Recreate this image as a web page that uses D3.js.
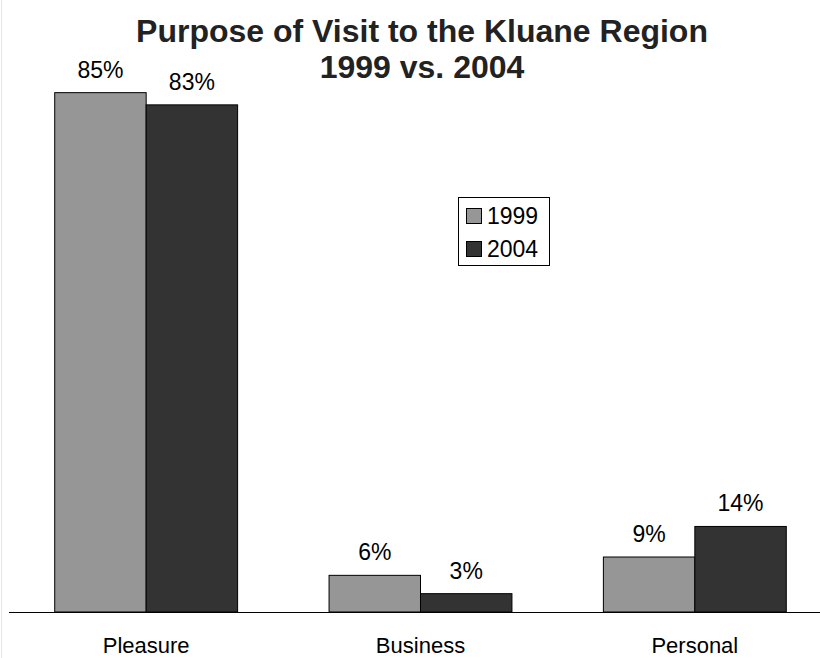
<!DOCTYPE html>
<html>
<head>
<meta charset="utf-8">
<script src="https://cdn.jsdelivr.net/npm/d3@7"></script>
<style>
  body { margin: 0; background: #fff; }
  svg { display: block; }
  text { font-family: "Liberation Sans", Arial, sans-serif; fill: #000; }
</style>
</head>
<body>
<div id="chart"></div>
<script>
// data
var categories = ["Pleasure", "Business", "Personal"];
var years = ["1999", "2004"];
var values1999 = [85, 6, 9];
var values2004 = [83, 3, 14];
var valueLabels1999 = ["85%", "6%", "9%"];
var valueLabels2004 = ["83%", "3%", "14%"];
var colors = ["#969696", "#333333"];

var width = 820, height = 658;

var svg = d3.select("#chart")
    .append("svg")
    .attr("width", width)
    .attr("height", height);

// faint frame line on the left edge
svg.append("line")
    .attr("x1", 1.5).attr("x2", 1.5)
    .attr("y1", 0).attr("y2", height)
    .attr("stroke", "#e6e6e6");

var rows = categories.map(function (c, i) {
    return { cat: c, vals: [values1999[i], values2004[i]], labels: [valueLabels1999[i], valueLabels2004[i]] };
});

// scales
var x0 = d3.scaleBand()
    .domain(categories)
    .range([9, 832])
    .paddingInner(1 / 3)
    .paddingOuter(1 / 6);

var x1 = d3.scaleBand()
    .domain(years)
    .range([0, x0.bandwidth()]);

var y = d3.scaleLinear()
    .domain([0, 100])
    .range([612, 1]);

// bars
var groups = svg.selectAll(".grp")
    .data(rows)
    .enter()
    .append("g")
    .attr("class", "grp")
    .attr("transform", function (d) { return "translate(" + x0(d.cat) + ",0)"; });

groups.selectAll("rect")
    .data(function (d) { return d.vals.map(function (v, j) { return { year: years[j], v: v, label: d.labels[j], j: j }; }); })
    .enter()
    .append("rect")
    .attr("x", function (d) { return x1(d.year); })
    .attr("y", function (d) { return y(d.v); })
    .attr("width", x1.bandwidth())
    .attr("height", function (d) { return y(0) - y(d.v); })
    .attr("fill", function (d) { return colors[d.j]; })
    .attr("stroke", "#000")
    .attr("stroke-width", 1);

// value labels
groups.selectAll("text")
    .data(function (d) { return d.vals.map(function (v, j) { return { year: years[j], v: v, label: d.labels[j] }; }); })
    .enter()
    .append("text")
    .attr("x", function (d) { return x1(d.year) + x1.bandwidth() / 2; })
    .attr("y", function (d) { return y(d.v) - 15; })
    .attr("text-anchor", "middle")
    .style("font-size", "23px")
    .text(function (d) { return d.label; });

// baseline
svg.append("line")
    .attr("x1", 9).attr("x2", width)
    .attr("y1", y(0) + 0.5).attr("y2", y(0) + 0.5)
    .attr("stroke", "#000")
    .attr("stroke-width", 1);

// category axis labels
svg.selectAll(".catlabel")
    .data(categories)
    .enter()
    .append("text")
    .attr("class", "catlabel")
    .attr("x", function (d) { return x0(d) + x0.bandwidth() / 2; })
    .attr("y", 653)
    .attr("text-anchor", "middle")
    .style("font-size", "22px")
    .text(function (d) { return d; });

// title
svg.append("text")
    .attr("x", 422).attr("y", 42)
    .attr("text-anchor", "middle")
    .style("font-size", "32px")
    .style("font-weight", "bold")
    .style("fill", "#222")
    .text("Purpose of Visit to the Kluane Region");
svg.append("text")
    .attr("x", 422).attr("y", 78)
    .attr("text-anchor", "middle")
    .style("font-size", "32px")
    .style("font-weight", "bold")
    .style("fill", "#222")
    .text("1999 vs. 2004");

// legend
var legend = svg.append("g").attr("transform", "translate(458,197)");
legend.append("rect")
    .attr("x", 0.5).attr("y", 0.5)
    .attr("width", 91).attr("height", 68)
    .attr("fill", "#fff")
    .attr("stroke", "#000");

var items = legend.selectAll(".item")
    .data(years)
    .enter()
    .append("g")
    .attr("class", "item")
    .attr("transform", function (d, i) { return "translate(0," + (i * 33) + ")"; });

items.append("rect")
    .attr("x", 8.5).attr("y", 11.5)
    .attr("width", 15).attr("height", 15)
    .attr("fill", function (d, i) { return colors[i]; })
    .attr("stroke", "#000");

items.append("text")
    .attr("x", 29).attr("y", 27)
    .style("font-size", "23px")
    .text(function (d) { return d; });
</script>
</body>
</html>
